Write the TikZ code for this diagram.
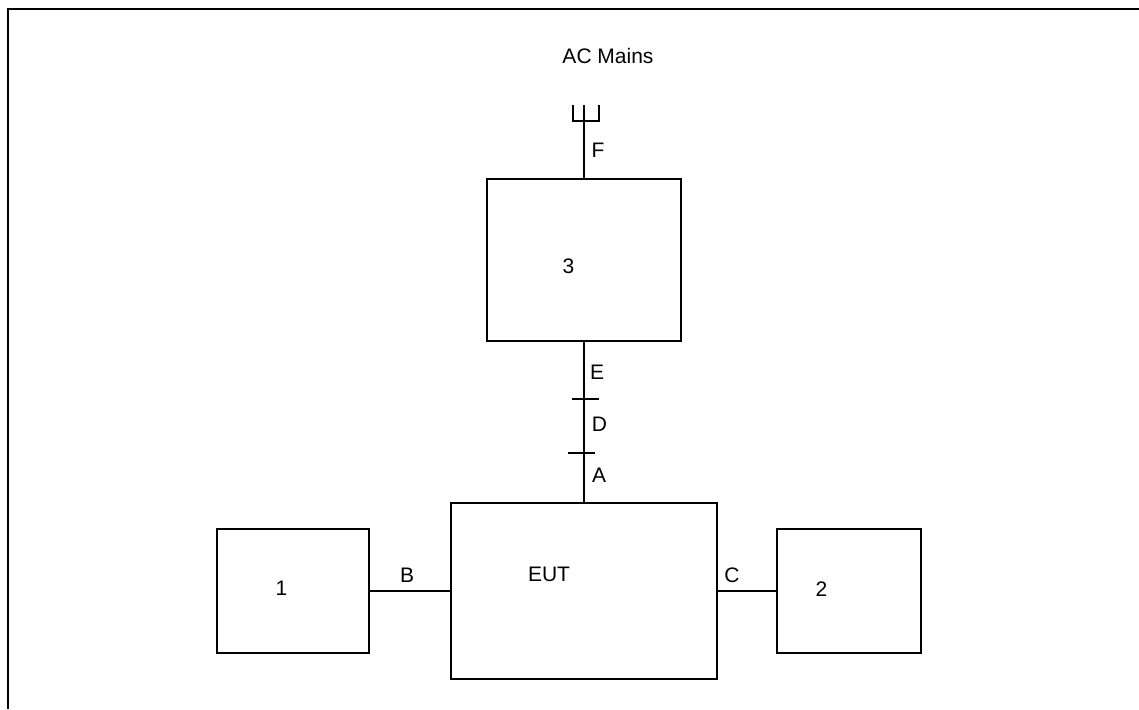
\documentclass[tikz,border=0pt]{standalone}
\usepackage{fontspec}
\setmainfont{Liberation Sans}
\begin{document}
\begin{tikzpicture}[x=1pt,y=-1pt,
  box/.style={draw,line width=1.9pt,inner sep=0pt,minimum width=#1},
  lbl/.style={inner sep=0pt,font=\fontsize{21}{25}\selectfont},
  wire/.style={line width=1.9pt}]
\useasboundingbox (0,0) rectangle (1139,709);
% frame
\draw[line width=2pt] (1139,9) -- (8,9) -- (8,709);
% boxes
\node[box=194pt,minimum height=162pt] (b3) at (584,260) {};
\node[box=266pt,minimum height=176pt] (eut) at (584,591) {};
\node[box=152pt,minimum height=124pt] (b1) at (293,591) {};
\node[box=144pt,minimum height=124pt] (b2) at (849,591) {};
% texts
\node[lbl] (t3) at (568.5,266.5) {3};
\node[lbl] (teut) at (549,574.5) {EUT};
\node[lbl] (t1) at (281.5,588.5) {1};
\node[lbl] (t2) at (821.5,589.5) {2};
\node[lbl] (ac) at (608,55.5) {AC Mains};
% plug
\coordinate (plug) at (584,105);
\draw[wire] (573,105) -- (573,121) -- (599,121) -- (599,105);
% connectors
\draw[wire] (plug) -- (b3.north);
\node[lbl] (tF) at (598,150) {F};
\draw[wire] (b3.south) -- (eut.north);
\draw[wire] (b1.east) -- (eut.west);
\node[lbl] (tB) at (407,575) {B};
\draw[wire] (eut.east) -- (b2.west);
\node[lbl] (tC) at (732,575.5) {C};
% ticks
\coordinate (tE1) at (572,399);
\coordinate (tE2) at (599,399);
\coordinate (tD1) at (568,453);
\coordinate (tD2) at (595,453);
\draw[wire] (tE1) -- (tE2);
\draw[wire] (tD1) -- (tD2);
\node[lbl] (tE) at (597,372) {E};
\node[lbl] (tDl) at (599.5,424) {D};
\node[lbl] (tA) at (599,475) {A};
\end{tikzpicture}
\end{document}
